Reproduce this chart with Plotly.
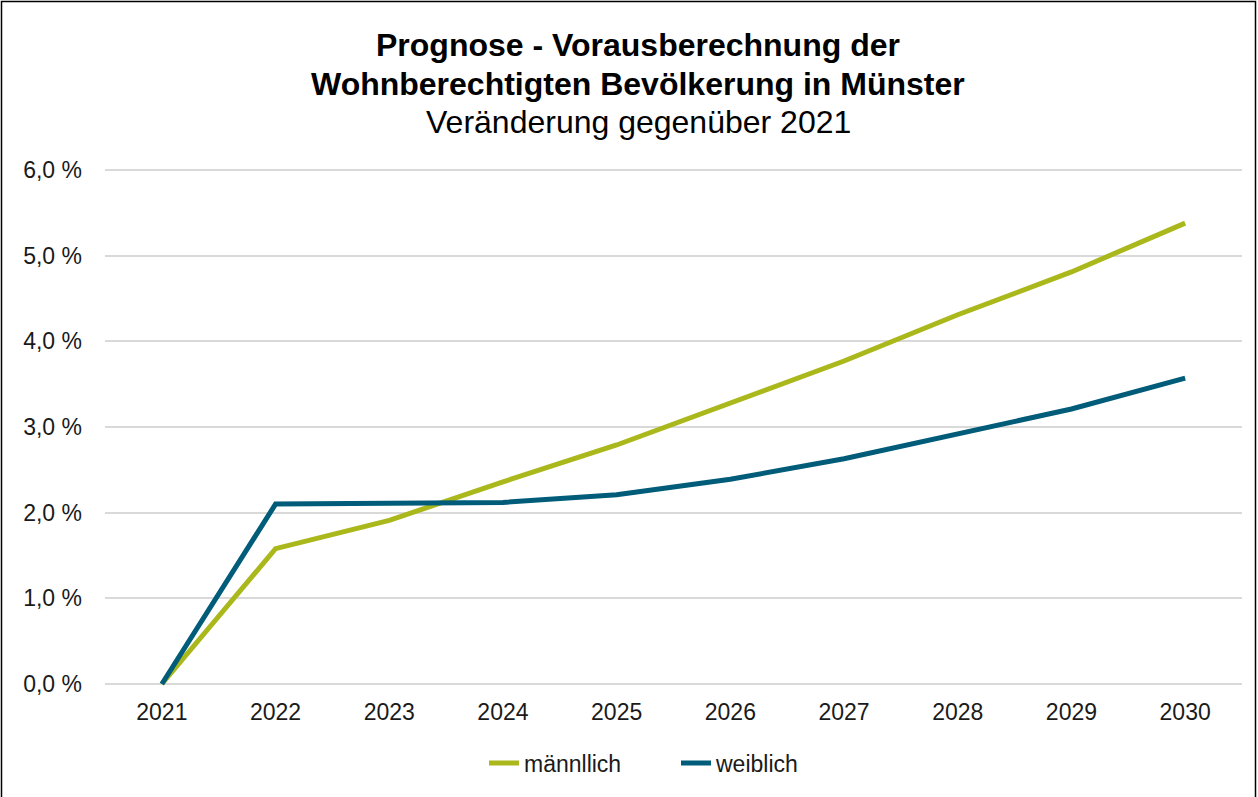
import plotly.graph_objects as go

years = ["2021", "2022", "2023", "2024", "2025", "2026", "2027", "2028", "2029", "2030"]
maennlich = [0.0, 1.58, 1.91, 2.36, 2.79, 3.28, 3.77, 4.31, 4.81, 5.38]
weiblich = [0.0, 2.10, 2.11, 2.12, 2.21, 2.39, 2.63, 2.92, 3.21, 3.57]
series_names = ["männllich", "weiblich"]
y_ticks = [0, 1, 2, 3, 4, 5, 6]
y_tick_labels = ["0,0 %", "1,0 %", "2,0 %", "3,0 %", "4,0 %", "5,0 %", "6,0 %"]

green = "#AAB81B"
blue = "#005C78"
font_family = "Liberation Sans, Arial, sans-serif"
txt = "#1a1a1a"

fig = go.Figure()
fig.add_trace(go.Scatter(x=years, y=maennlich, mode="lines", name=series_names[0],
                         line=dict(color=green, width=5)))
fig.add_trace(go.Scatter(x=years, y=weiblich, mode="lines", name=series_names[1],
                         line=dict(color=blue, width=5)))

W, H = 1258, 797
ml, mr, mt, mb = 105, 16, 167, 110
pw = W - ml - mr
ph = H - mt - mb

def px_x(p):
    return (p - ml) / pw

def px_y(p):
    return (H - mb - p) / ph

fig.update_layout(
    width=W, height=H,
    margin=dict(l=ml, r=mr, t=mt, b=mb, autoexpand=False),
    paper_bgcolor="white", plot_bgcolor="white",
    font=dict(family=font_family, size=23, color=txt),
    showlegend=True,
    legend=dict(orientation="h", x=px_x(484), xanchor="left", y=px_y(763), yanchor="middle",
                font=dict(size=23, color=txt), traceorder="normal",
                entrywidth=147, entrywidthmode="pixels"),
    xaxis=dict(type="category", range=[-0.5, 9.5], showgrid=False, zeroline=False,
               showline=False, ticks="", ticklabelstandoff=9,
               tickfont=dict(size=23, color=txt)),
    yaxis=dict(range=[-0.035, 6.035], tickvals=y_ticks, ticktext=y_tick_labels,
               showgrid=True, gridcolor="#d9d9d9", gridwidth=1.5, zeroline=False,
               showline=False, ticks="", ticklabelstandoff=22,
               tickfont=dict(size=23, color=txt)),
    annotations=[
        dict(text="<b>Prognose - Vorausberechnung der</b>", x=px_x(638), y=px_y(45),
             xref="paper", yref="paper", showarrow=False, xanchor="center", yanchor="middle",
             font=dict(size=32, color="#000000")),
        dict(text="<b>Wohnberechtigten Bevölkerung in Münster</b>", x=px_x(638), y=px_y(84),
             xref="paper", yref="paper", showarrow=False, xanchor="center", yanchor="middle",
             font=dict(size=32, color="#000000")),
        dict(text="Veränderung gegenüber 2021", x=px_x(638), y=px_y(122),
             xref="paper", yref="paper", showarrow=False, xanchor="center", yanchor="middle",
             font=dict(size=32, color="#000000")),
    ],
    shapes=[
        dict(type="rect", xref="paper", yref="paper",
             x0=px_x(1.5), x1=px_x(W - 2.5), y0=px_y(H + 5), y1=px_y(1.5),
             line=dict(color="#000000", width=1.5), fillcolor="rgba(0,0,0,0)", layer="above"),
    ],
)

fig.write_html("out.html", config={"displayModeBar": False},
               post_script="document.body.style.margin='0';document.body.style.overflow='hidden';")
